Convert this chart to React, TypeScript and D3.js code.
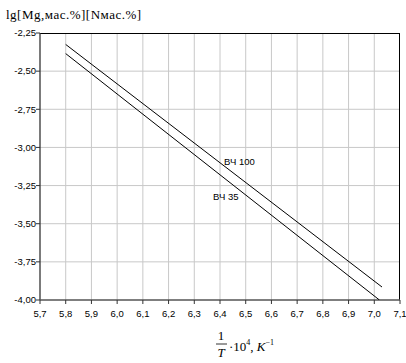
import React from "react";
import * as d3 from "d3";

// Axis ticks
const xTicks = [5.7, 5.8, 5.9, 6.0, 6.1, 6.2, 6.3, 6.4, 6.5, 6.6, 6.7, 6.8, 6.9, 7.0, 7.1];
const yTicks = [-2.25, -2.5, -2.75, -3.0, -3.25, -3.5, -3.75, -4.0];

// Series: straight-line fits (1/T·10^4 vs lg[Mg][N])
const seriesNames = ["ВЧ 100", "ВЧ 35"];
const series100: [number, number][] = [
  [5.8, -2.325],
  [7.03, -3.915],
];
const series35: [number, number][] = [
  [5.8, -2.385],
  [7.02, -4.0],
];

const W = 406;
const H = 363;
const left = 40;
const right = 400;
const top = 33;
const bottom = 300;

export default function App() {
  const x = d3.scaleLinear().domain([5.7, 7.1]).range([left, right]);
  const y = d3.scaleLinear().domain([-4.0, -2.25]).range([bottom, top]);
  const line = d3
    .line<[number, number]>()
    .x((d) => x(d[0]))
    .y((d) => y(d[1]));
  const fmtX = (v: number) => v.toFixed(1).replace(".", ",");
  const fmtY = (v: number) => v.toFixed(2).replace(".", ",");
  const sans = "'Liberation Sans', Arial, sans-serif";
  const serif = "'Liberation Serif', 'Times New Roman', serif";

  return (
    <svg
      width={W}
      height={H}
      style={{ position: "absolute", left: 0, top: 0, background: "#fff" }}
    >
      <defs>
        <clipPath id="plot">
          <rect x={left} y={top} width={right - left} height={bottom - top} />
        </clipPath>
      </defs>
      {/* grid */}
      {xTicks.slice(1, -1).map((t) => (
        <line key={"gx" + t} x1={x(t)} x2={x(t)} y1={top} y2={bottom} stroke="#c8c8c8" strokeWidth={1} />
      ))}
      {yTicks.slice(1, -1).map((t) => (
        <line key={"gy" + t} x1={left} x2={right} y1={y(t)} y2={y(t)} stroke="#c8c8c8" strokeWidth={1} />
      ))}
      {/* frame */}
      <line x1={left} x2={right} y1={top + 0.5} y2={top + 0.5} stroke="#000" />
      <line x1={right - 0.5} x2={right - 0.5} y1={top} y2={bottom} stroke="#000" />
      <line x1={left} x2={left} y1={top} y2={bottom} stroke="#333" strokeWidth={1.3} />
      <line x1={left} x2={right} y1={bottom} y2={bottom} stroke="#555" strokeWidth={1.6} />
      {/* ticks */}
      {xTicks.map((t) => (
        <g key={"tx" + t}>
          <line x1={x(t)} x2={x(t)} y1={bottom} y2={bottom + 4} stroke="#333" />
          <text x={x(t)} y={317} fontFamily={sans} fontSize={9.5} textAnchor="middle" fill="#000">
            {fmtX(t)}
          </text>
        </g>
      ))}
      {yTicks.map((t) => (
        <g key={"ty" + t}>
          <line x1={left - 4} x2={left} y1={y(t)} y2={y(t)} stroke="#333" />
          <text x={36} y={y(t) + 3.3} fontFamily={sans} fontSize={9.5} textAnchor="end" fill="#000">
            {fmtY(t)}
          </text>
        </g>
      ))}
      {/* series */}
      <g clipPath="url(#plot)">
        <path d={line(series100) || ""} fill="none" stroke="#000" strokeWidth={1} />
        <path d={line(series35) || ""} fill="none" stroke="#000" strokeWidth={1} />
      </g>
      <text x={224} y={165} fontFamily={sans} fontSize={9.5} fill="#000">
        {seriesNames[0]}
      </text>
      <text x={213} y={200} fontFamily={sans} fontSize={9.5} fill="#000">
        {seriesNames[1]}
      </text>
      {/* y title */}
      <text x={6} y={19} fontFamily={serif} fontSize={13} letterSpacing={0.5} fill="#000">
        lg[Mg,мас.%][Nмас.%]
      </text>
      {/* x title: (1/T)·10^4, K^-1 */}
      <g fontFamily={serif} fill="#000">
        <text x={221} y={340} fontSize={13} textAnchor="middle">1</text>
        <line x1={216} x2={227} y1={344} y2={344} stroke="#000" strokeWidth={0.8} />
        <text x={221} y={357} fontSize={13} textAnchor="middle" fontStyle="italic">T</text>
        <text x={229} y={351} fontSize={13}>
          ·10<tspan fontSize={8} dy={-6}>4</tspan>
          <tspan dy={6}>, </tspan>
          <tspan fontStyle="italic">K</tspan>
          <tspan fontSize={8} dy={-6}>−1</tspan>
        </text>
      </g>
    </svg>
  );
}
